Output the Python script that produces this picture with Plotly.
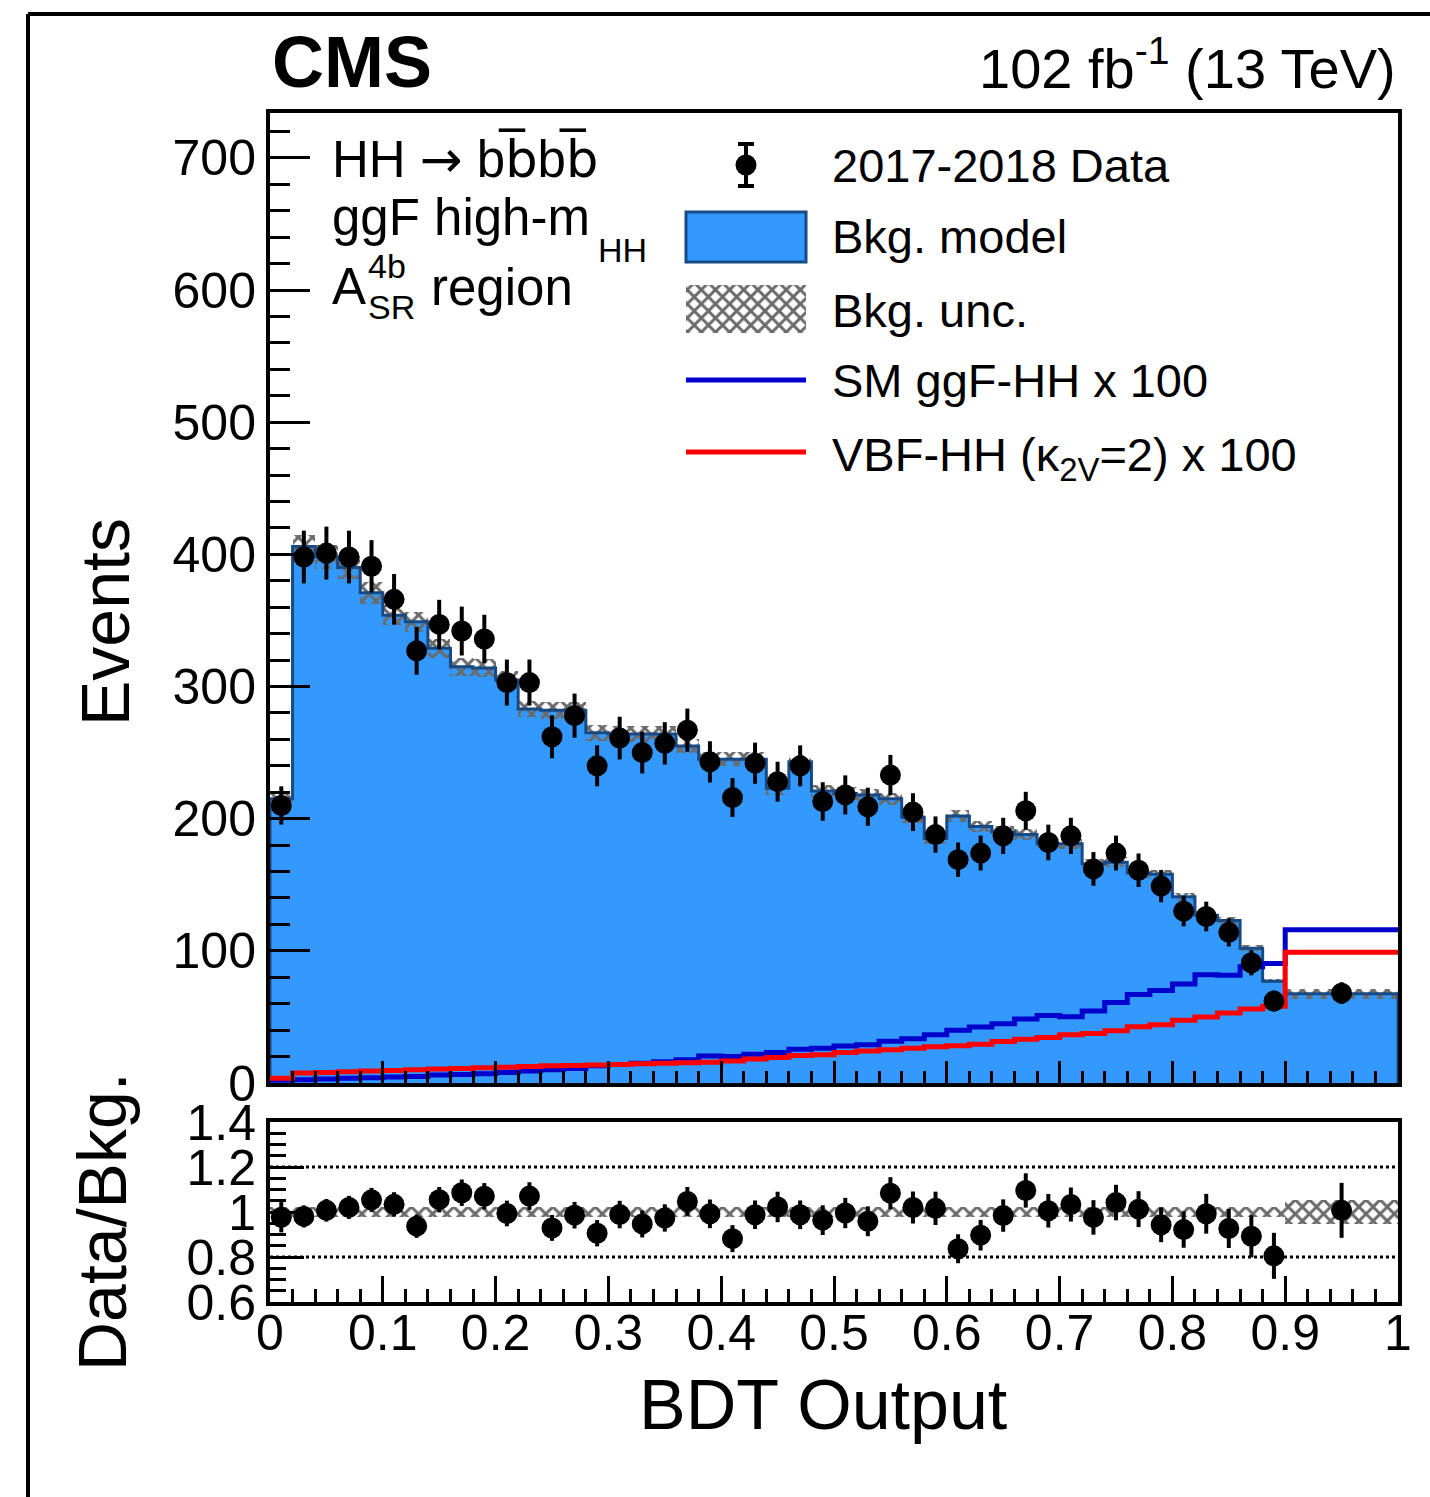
import numpy as np
import plotly.graph_objects as go

# ---------------- data ----------------
bin_edges = [0.00, 0.02, 0.04, 0.06, 0.08, 0.10, 0.12, 0.14, 0.16, 0.18,
             0.20, 0.22, 0.24, 0.26, 0.28, 0.30, 0.32, 0.34, 0.36, 0.38,
             0.40, 0.42, 0.44, 0.46, 0.48, 0.50, 0.52, 0.54, 0.56, 0.58,
             0.60, 0.62, 0.64, 0.66, 0.68, 0.70, 0.72, 0.74, 0.76, 0.78,
             0.80, 0.82, 0.84, 0.86, 0.88, 0.90, 1.00]

data_counts = [210, 398, 401, 398, 391, 366, 327, 347, 342, 336,
               303, 303, 262, 278, 240, 261, 250, 257, 267, 243,
               216, 242, 228, 240, 213, 218, 209, 233, 205, 188,
               169, 174, 187, 206, 182, 187, 162, 174, 161, 149,
               130, 126, 114, 91, 62, 68]

bkg_model = [215, 406, 398, 390, 371, 354, 349, 329, 315, 314,
             305, 283, 282, 282, 265, 264, 264, 264, 255, 245,
             245, 245, 223, 243, 221, 219, 218, 215, 201, 185,
             202, 194, 190, 188, 181, 181, 166, 167, 159, 158,
             141, 127, 123, 102, 77, 67.5]

bkg_unc_frac = [0.022, 0.022, 0.022, 0.022, 0.022, 0.022, 0.022, 0.022, 0.022, 0.022,
                0.022, 0.022, 0.022, 0.022, 0.022, 0.022, 0.022, 0.022, 0.022, 0.022,
                0.022, 0.022, 0.022, 0.022, 0.022, 0.022, 0.022, 0.022, 0.022, 0.022,
                0.022, 0.022, 0.022, 0.022, 0.022, 0.022, 0.022, 0.022, 0.022, 0.022,
                0.022, 0.022, 0.022, 0.022, 0.022, 0.055]

sig_ggf_x100 = [2.0, 2.5, 3.0, 3.5, 4.0, 4.5, 5.0, 6.0, 6.5, 7.0,
                8.0, 9.0, 10.0, 11.0, 13.0, 14.0, 15.0, 16.0, 17.5, 20.5,
                20.0, 21.8, 23.0, 25.5, 26.3, 28.0, 29.0, 31.5, 33.5, 36.5,
                40.0, 42.3, 44.8, 48.4, 51.0, 50.2, 54.5, 61.0, 67.0, 70.0,
                75.0, 82.0, 81.5, 88.0, 90.4, 116.0]

sig_vbf_x100 = [3.5, 7.5, 8.0, 8.5, 9.0, 9.5, 10.0, 10.5, 11.0, 11.5,
                12.0, 12.5, 13.0, 13.3, 13.6, 14.0, 14.5, 15.0, 15.3, 15.7,
                16.7, 18.2, 19.3, 20.8, 21.3, 23.0, 24.3, 25.1, 26.3, 27.4,
                28.1, 29.4, 31.4, 33.2, 34.4, 36.5, 37.5, 39.5, 42.5, 44.0,
                47.5, 50.0, 53.0, 56.0, 58.0, 99.0]

ratio_ref_lines = [0.8, 1.2]

# ---------------- derived ----------------
edges = np.array(bin_edges)
centers = (edges[:-1] + edges[1:]) / 2
widths = np.diff(edges)
data = np.array(data_counts, dtype=float)
bkg = np.array(bkg_model, dtype=float)
unc = np.array(bkg_unc_frac)
data_err = np.sqrt(data)
ratio = data / bkg
ratio_err = data_err / bkg

# ---------------- layout geometry (pixels) ----------------
W, H = 1430, 1497
X0, X1 = 270, 1398          # plot area left/right
YT, YB = 113, 1302          # top of main pad, bottom of ratio pad
Y_MAIN_BOT = 1083
Y_RAT_TOP = 1122
YMAX = 734.0

def fx(p):
    return (p - X0) / (X1 - X0)

def fy(p):
    return (YB - p) / (YB - YT)

def dx(p):  # pixel -> main data x
    return (p - X0) / (X1 - X0)

def dy(p):  # pixel -> main data y
    return (Y_MAIN_BOT - p) * YMAX / (Y_MAIN_BOT - YT)

FONT = "Liberation Sans, Arial, Helvetica, sans-serif"
BLUE_FILL = "#3399ff"
BLUE_EDGE = "#174a85"
SIG_BLUE = "#0000cc"
SIG_RED = "#ff0000"
HATCH = "#6a6a6a"
HATCH_PATTERN = dict(shape="x", fillmode="replace", size=10, solidity=0.5, fgcolor=HATCH)

fig = go.Figure()

def step_xy(vals):
    return list(edges), list(vals) + [vals[-1]]

# background model fill
fig.add_trace(go.Bar(x=centers, y=bkg, width=widths, base=0,
                     marker=dict(color=BLUE_FILL, line=dict(width=0)),
                     xaxis="x", yaxis="y", showlegend=False))
# background outline
ox = [edges[0]] + list(edges) + [edges[-1]]
oy = [0] + list(bkg) + [bkg[-1], 0]
fig.add_trace(go.Scatter(x=ox, y=oy, mode="lines", line=dict(color=BLUE_EDGE, width=3, shape="hv"),
                         xaxis="x", yaxis="y", showlegend=False))
# uncertainty hatch
fig.add_trace(go.Bar(x=centers, y=2 * bkg * unc, base=bkg * (1 - unc), width=widths,
                     marker=dict(color=HATCH, line=dict(width=0), pattern=HATCH_PATTERN),
                     xaxis="x", yaxis="y", showlegend=False))
# signals
sx, sy = step_xy(sig_ggf_x100)
fig.add_trace(go.Scatter(x=sx, y=sy, mode="lines", line=dict(color=SIG_BLUE, width=5, shape="hv"),
                         xaxis="x", yaxis="y", showlegend=False))
sx, sy = step_xy(sig_vbf_x100)
fig.add_trace(go.Scatter(x=sx, y=sy, mode="lines", line=dict(color=SIG_RED, width=5, shape="hv"),
                         xaxis="x", yaxis="y", showlegend=False))
# data
fig.add_trace(go.Scatter(x=centers, y=data, mode="markers",
                         marker=dict(color="black", size=21),
                         error_y=dict(type="data", array=data_err, color="black", thickness=4, width=0),
                         xaxis="x", yaxis="y", showlegend=False))

# ---------------- ratio pad ----------------
fig.add_trace(go.Bar(x=centers, y=2 * unc, base=1 - unc, width=widths,
                     marker=dict(color=HATCH, line=dict(width=0), pattern=HATCH_PATTERN),
                     xaxis="x2", yaxis="y2", showlegend=False))
for r in ratio_ref_lines:
    fig.add_trace(go.Scatter(x=[edges[0], edges[-1]], y=[r, r], mode="lines",
                             line=dict(color="black", width=3, dash="dot"),
                             xaxis="x2", yaxis="y2", showlegend=False))
fig.add_trace(go.Scatter(x=centers, y=ratio, mode="markers",
                         marker=dict(color="black", size=21),
                         error_y=dict(type="data", array=ratio_err, color="black", thickness=4, width=0),
                         xaxis="x2", yaxis="y2", showlegend=False))

# ---------------- legend (drawn manually) ----------------
fig.add_trace(go.Scatter(x=[dx(746)], y=[dy(165)], mode="markers",
                         marker=dict(color="black", size=21),
                         error_y=dict(type="data", array=[dy(144) - dy(165)], color="black",
                                      thickness=4, width=8),
                         xaxis="x", yaxis="y", showlegend=False))
fig.add_trace(go.Bar(x=[dx(746)], y=[dy(285) - dy(333)], base=[dy(333)], width=[dx(806) - dx(686)],
                     marker=dict(color=HATCH, line=dict(width=0), pattern=HATCH_PATTERN),
                     xaxis="x", yaxis="y", showlegend=False))

shapes = [
    dict(type="rect", xref="x", yref="y", x0=dx(686), x1=dx(806), y0=dy(212), y1=dy(262),
         fillcolor=BLUE_FILL, line=dict(color=BLUE_EDGE, width=3)),
    dict(type="line", xref="x", yref="y", x0=dx(686), x1=dx(806), y0=dy(380), y1=dy(380),
         line=dict(color=SIG_BLUE, width=5)),
    dict(type="line", xref="x", yref="y", x0=dx(686), x1=dx(806), y0=dy(452), y1=dy(452),
         line=dict(color=SIG_RED, width=5)),
    # outer frame of the page
    dict(type="line", xref="paper", yref="paper", x0=fx(28), x1=fx(1440), y0=fy(14), y1=fy(14),
         line=dict(color="black", width=4)),
    dict(type="line", xref="paper", yref="paper", x0=fx(28), x1=fx(28), y0=fy(14), y1=fy(1510),
         line=dict(color="black", width=4)),
]

def ann(text, x, y, size, xanchor="left", yanchor="middle", angle=0):
    return dict(text=text, x=fx(x), y=fy(y), xref="paper", yref="paper",
                xanchor=xanchor, yanchor=yanchor, showarrow=False, textangle=angle,
                font=dict(family=FONT, size=size, color="black"))

BBAR = "b\u0305"
annotations = [
    ann("<b>CMS</b>", 270, 62, 72),
    ann("102 fb<sup>-1</sup> (13 TeV)", 1398, 64, 56, xanchor="right"),
    ann("HH <span style='font-family:DejaVu Sans'>\u2192</span> b" + "<span style='font-family:DejaVu Sans'>" + BBAR + "</span>b"
        + "<span style='font-family:DejaVu Sans'>" + BBAR + "</span>", 330, 158, 51),
    ann("ggF high-m", 330, 217, 51),
    ann("HH", 596, 250, 34),
    ann("A", 330, 286, 51),
    ann("4b", 366, 266, 34),
    ann("SR", 366, 307, 34),
    ann("region", 429, 287, 51),
    ann("2017-2018 Data", 830, 165, 47),
    ann("Bkg. model", 830, 237, 47),
    ann("Bkg. unc.", 830, 310, 47),
    ann("SM ggF-HH x 100", 830, 380, 47),
    ann("VBF-HH (\u03ba<sub>2V</sub>=2) x 100", 830, 458, 47),
    ann("Events", 105, 622, 68, xanchor="center", angle=-90),
    ann("Data/Bkg.", 102, 1222, 68, xanchor="center", angle=-90),
    ann("BDT Output", 823, 1405, 70, xanchor="center"),
]

axis_common = dict(showline=True, linewidth=4, linecolor="black", mirror=True,
                   showgrid=False, zeroline=False, ticks="inside", tickcolor="black",
                   tickwidth=3)

fig.update_layout(
    width=W, height=H,
    margin=dict(l=X0, r=W - X1, t=YT, b=H - YB, pad=0),
    paper_bgcolor="white", plot_bgcolor="white",
    barmode="overlay", bargap=0, showlegend=False,
    font=dict(family=FONT, color="black"),
    xaxis=dict(domain=[0, 1], anchor="y", range=[0, 1], showticklabels=False,
               tick0=0, dtick=0.1, ticklen=22,
               minor=dict(ticks="inside", dtick=0.02, ticklen=12, tickwidth=3, tickcolor="black"),
               **axis_common),
    yaxis=dict(domain=[fy(Y_MAIN_BOT), 1], anchor="x", range=[0, YMAX],
               tick0=0, dtick=100, ticklen=40,
               minor=dict(ticks="inside", dtick=20, ticklen=20, tickwidth=3, tickcolor="black"),
               tickfont=dict(family=FONT, size=50), **axis_common),
    xaxis2=dict(domain=[0, 1], anchor="y2", range=[0, 1], matches="x",
                tick0=0, dtick=0.1, ticklen=26, ticklabelstandoff=-16,
                minor=dict(ticks="inside", dtick=0.02, ticklen=13, tickwidth=3, tickcolor="black"),
                tickfont=dict(family=FONT, size=50), **axis_common),
    yaxis2=dict(domain=[0, fy(Y_RAT_TOP)], anchor="x2", range=[0.6, 1.4],
                tick0=0.6, dtick=0.2, ticklen=34,
                minor=dict(ticks="inside", dtick=0.05, ticklen=16, tickwidth=3, tickcolor="black"),
                tickfont=dict(family=FONT, size=50), **axis_common),
    shapes=shapes,
    annotations=annotations,
)

fig.write_html("out.html")
